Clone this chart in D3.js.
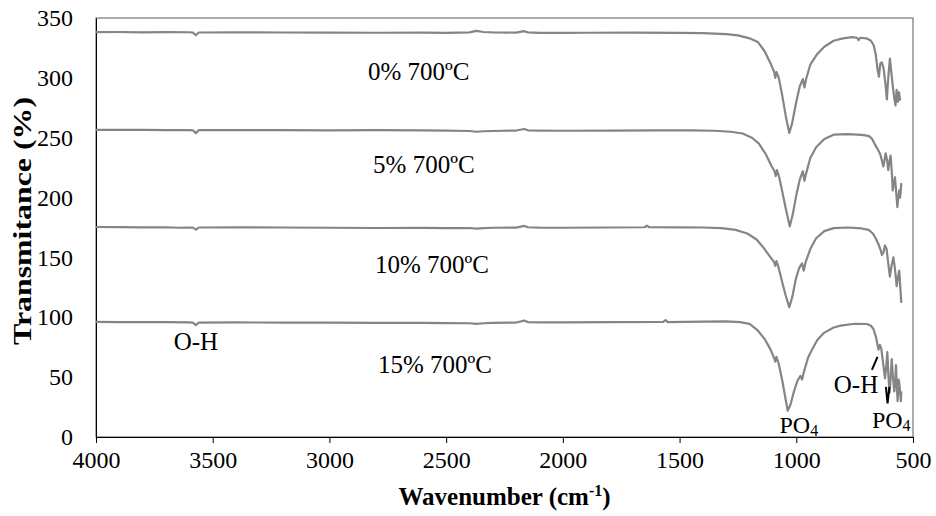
<!DOCTYPE html>
<html>
<head>
<meta charset="utf-8">
<script src="https://cdn.jsdelivr.net/npm/d3@7"></script>
<style>
    body { margin: 0; background: #fff; }
    text { font-family: "Liberation Serif", "Times New Roman", serif; fill: #000; }
</style>
</head>
<body>
<svg id="chart" width="936" height="516"></svg>
<script>
// Spectres FTIR, [nombre d'onde, transmittance]
var spec0 = [[4000, 338.2], [3900, 338.3], [3800, 338.0], [3700, 338.2], [3600, 338.1], [3585, 337.8], [3572, 335.6], [3560, 337.9], [3400, 338.0], [3200, 337.9], [3000, 337.8], [2800, 337.7], [2600, 337.8], [2500, 337.6], [2400, 338.0], [2370, 339.2], [2340, 338.3], [2300, 338.0], [2200, 337.8], [2165, 339.0], [2150, 338.0], [2100, 337.6], [2000, 337.5], [1900, 337.7], [1700, 337.8], [1500, 337.6], [1400, 337.4], [1300, 336.6], [1250, 335.5], [1200, 333], [1165, 330], [1135, 322], [1110, 312], [1095, 305], [1090, 300], [1085, 305], [1075, 300], [1060, 285], [1045, 268], [1030, 254], [1018, 262], [1000, 280], [985, 293], [972, 299], [965, 292], [958, 299], [940, 311], [910, 320], [880, 326], [840, 331], [800, 333], [760, 334], [740, 333.5], [733, 331.5], [726, 333.5], [700, 333], [680, 331], [668, 327], [660, 320], [652, 307], [646, 301], [640, 312], [634, 313], [626, 308], [618, 295], [612, 282], [606, 300], [599, 316], [593, 305], [586, 292], [580, 283], [575, 277], [570, 290], [565, 280], [560, 288], [555, 281]];
var spec5 = [[4000, 256.6], [3900, 256.5], [3800, 256.6], [3700, 256.3], [3600, 256.4], [3585, 256.2], [3572, 253.8], [3560, 256.3], [3400, 256.4], [3200, 256.3], [3000, 256.2], [2800, 256.3], [2600, 256.1], [2500, 256.0], [2400, 255.6], [2370, 255.0], [2340, 255.4], [2300, 255.6], [2200, 256.0], [2165, 257.3], [2150, 256.2], [2100, 256.0], [2000, 255.8], [1800, 256.0], [1600, 256.2], [1450, 256.1], [1350, 255.8], [1280, 255], [1230, 253.5], [1190, 250], [1160, 245], [1130, 236], [1105, 226], [1093, 222], [1088, 218], [1083, 223], [1073, 217], [1058, 203], [1043, 189], [1028, 176], [1015, 186], [1000, 202], [985, 215], [972, 222], [965, 214], [958, 220], [940, 233], [915, 242], [880, 249], [840, 252.5], [780, 253], [720, 252.3], [690, 251.5], [675, 249], [662, 244], [650, 240], [640, 236], [632, 230], [627, 226], [617, 237], [611, 231], [606, 223], [601, 230], [596, 235], [591, 222], [587, 206], [582, 212], [577, 217], [572, 204], [567, 192], [563, 200], [559, 206], [555, 200], [550, 212]];
var spec10 = [[4000, 175.4], [3900, 175.3], [3800, 175.1], [3700, 175.2], [3650, 174.8], [3600, 175.0], [3585, 174.9], [3572, 173.2], [3560, 175.0], [3400, 175.1], [3200, 175.0], [3000, 174.8], [2800, 174.6], [2600, 174.7], [2500, 174.5], [2400, 174.6], [2370, 174.0], [2340, 174.4], [2300, 174.8], [2200, 174.9], [2165, 176.3], [2150, 175.2], [2100, 174.9], [2000, 174.8], [1800, 175.0], [1650, 175.2], [1640, 176.6], [1630, 175.2], [1500, 175.1], [1400, 175], [1320, 174.5], [1260, 173], [1210, 170], [1170, 165], [1140, 158], [1110, 150], [1095, 146], [1090, 143], [1085, 147], [1075, 141], [1060, 129], [1045, 118], [1030, 108.5], [1017, 117], [1002, 132], [988, 141], [975, 145], [968, 139], [960, 146], [940, 157], [915, 166], [880, 172], [840, 174.5], [780, 175], [720, 174.2], [690, 173], [672, 170], [660, 166], [648, 161], [640, 157], [633, 152], [627, 154], [620, 160], [613, 157], [606, 145], [599, 134], [592, 143], [584, 150], [577, 140], [570, 126], [564, 134], [559, 139], [554, 124], [550, 112]];
var spec15 = [[4000, 96.2], [3900, 96.0], [3800, 95.9], [3700, 96.0], [3600, 95.8], [3585, 95.6], [3572, 93.4], [3560, 95.6], [3400, 95.7], [3200, 95.6], [3000, 95.5], [2800, 95.4], [2600, 95.4], [2500, 95.2], [2400, 95.0], [2370, 94.5], [2340, 95.0], [2300, 95.3], [2200, 95.6], [2165, 97.2], [2150, 96.0], [2100, 95.8], [2000, 95.7], [1800, 95.9], [1570, 96.1], [1560, 97.6], [1550, 96.0], [1400, 96.4], [1300, 96.6], [1240, 96.0], [1200, 94.5], [1165, 89], [1136, 82], [1110, 73], [1095, 66], [1090, 63], [1085, 67], [1075, 61], [1060, 47], [1048, 34], [1037, 22], [1025, 27], [1010, 38], [995, 47], [982, 51], [975, 48], [968, 54], [950, 66], [938, 71], [910, 81], [881, 87], [840, 91.5], [810, 93], [750, 94.6], [697, 94.4], [680, 93], [669, 90], [658, 83], [648, 73], [642, 77], [636, 74], [628, 62], [620, 49], [614, 60], [610, 71], [605, 50], [600, 37], [595, 52], [591, 65], [586, 50], [580, 38], [576, 48], [573, 60], [569, 42], [566, 30], [561, 48], [556, 40], [552, 30], [550, 38]];

var series = [spec0, spec5, spec10, spec15];
var seriesLabels = ["0% 700ºC", "5% 700ºC", "10% 700ºC", "15% 700ºC"];
// position des étiquettes [nombre d'onde, transmittance]
var labelPos = [[2835, 298], [2813, 220.5], [2805, 137], [2792, 53.5]];

var xTicks = [4000, 3500, 3000, 2500, 2000, 1500, 1000, 500];
var yTicks = [0, 50, 100, 150, 200, 250, 300, 350];

(function() {
    var svg = d3.select("#chart"),
        margin = {top: 18, right: 23, bottom: 79, left: 96},
        width = +svg.attr("width") - margin.left - margin.right,
        height = +svg.attr("height") - margin.top - margin.bottom;

    var x = d3.scaleLinear().domain([4000, 500]).range([0, width]),
        y = d3.scaleLinear().domain([0, 350]).range([height, 0]);

    var g = svg.append("g").attr("transform", "translate(" + margin.left + "," + margin.top + ")");

    // cadre
    g.append("rect")
        .attr("width", width).attr("height", height)
        .attr("fill", "none").attr("stroke", "#595959").attr("stroke-width", 1);

    // axe x
    var xAxis = g.append("g")
        .attr("transform", "translate(0," + height + ")")
        .call(d3.axisBottom(x).tickValues(xTicks).tickSize(6).tickFormat(d3.format("d")));
    xAxis.select(".domain").attr("stroke", "#000");
    xAxis.selectAll(".tick line").attr("stroke", "#000");
    xAxis.selectAll("text")
        .attr("dy", "0.9em")
        .style("font-size", "24px");

    // axe y (sans graduations)
    var yAxis = g.append("g")
        .call(d3.axisLeft(y).tickValues(yTicks).tickSize(0).tickPadding(23));
    yAxis.select(".domain").attr("stroke", "#000");
    yAxis.selectAll("text").style("font-size", "24px");

    // spectres
    var line = d3.line()
        .x(function(d) { return x(d[0]); })
        .y(function(d) { return y(d[1]); });

    g.selectAll(".spec")
        .data(series)
        .enter().append("path")
        .attr("class", "spec")
        .attr("d", line)
        .attr("fill", "none")
        .attr("stroke", "#858585")
        .attr("stroke-width", 2.2)
        .attr("stroke-linejoin", "round");

    g.selectAll(".lab")
        .data(seriesLabels)
        .enter().append("text")
        .attr("class", "lab")
        .attr("x", function(d, i) { return x(labelPos[i][0]); })
        .attr("y", function(d, i) { return y(labelPos[i][1]); })
        .style("font-size", "25px")
        .text(function(d) { return d; });

    // annotations
    g.append("text")
        .attr("x", x(3572)).attr("y", y(72.7))
        .attr("text-anchor", "middle")
        .style("font-size", "25px")
        .text("O-H");

    g.append("text")
        .attr("x", x(744)).attr("y", y(36.8))
        .attr("text-anchor", "middle")
        .style("font-size", "25px")
        .text("O-H");

    g.append("line")
        .attr("x1", x(676)).attr("y1", y(56))
        .attr("x2", x(652)).attr("y2", y(67))
        .attr("stroke", "#000").attr("stroke-width", 2);

    g.append("path")
        .attr("d", d3.line()([[x(616), y(41.8)], [x(609), y(28.1)], [x(601), y(41.8)]]))
        .attr("fill", "none").attr("stroke", "#000").attr("stroke-width", 2);

    function po4(w, t) {
        var tx = g.append("text")
            .attr("x", x(w)).attr("y", y(t))
            .style("font-size", "24px");
        tx.append("tspan").text("PO");
        tx.append("tspan").attr("dy", 3).style("font-size", "16px").text("4");
    }
    po4(1072, 3.5);
    po4(676, 7.5);

    // titres des axes
    var xt = svg.append("text")
        .attr("x", margin.left + width / 2).attr("y", 505)
        .attr("text-anchor", "middle")
        .style("font-size", "25px").style("font-weight", "bold");
    xt.append("tspan").text("Wavenumber (cm");
    xt.append("tspan").attr("dy", -9).style("font-size", "16px").text("-1");
    xt.append("tspan").attr("dy", 9).text(")");

    svg.append("text")
        .attr("transform", "translate(31," + (margin.top + 203) + ") rotate(-90)")
        .attr("text-anchor", "middle")
        .attr("textLength", 248)
        .attr("lengthAdjust", "spacingAndGlyphs")
        .style("font-size", "26px").style("font-weight", "bold")
        .text("Transmitance (%)");
})();
</script>
</body>
</html>
